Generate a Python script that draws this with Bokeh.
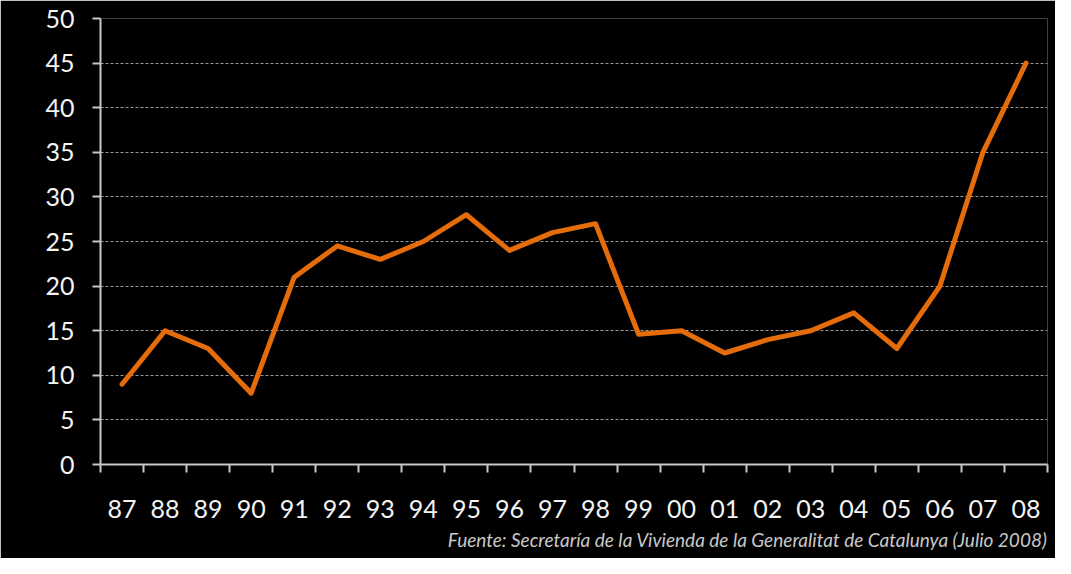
from bokeh.plotting import figure
from bokeh.models import Range1d, FixedTicker, Title
from bokeh.embed import file_html
from bokeh.resources import INLINE

years = ["87", "88", "89", "90", "91", "92", "93", "94", "95", "96", "97",
         "98", "99", "00", "01", "02", "03", "04", "05", "06", "07", "08"]
values = [9, 15, 13, 8, 21, 24.5, 23, 25, 28, 24, 26,
          27, 14.6, 15, 12.5, 14, 15, 17, 13, 20, 35, 45]
y_ticks = list(range(0, 51, 5))
source_note = "Fuente: Secretaría de la Vivienda de la Generalitat de Catalunya (Julio 2008)"

n = len(years)
xs = [i + 0.5 for i in range(n)]

p = figure(width=1055, height=558, output_backend="svg", toolbar_location=None,
           x_range=Range1d(0, n), y_range=Range1d(0, 50),
           min_border_left=100, min_border_right=8, min_border_top=18, min_border_bottom=94,
           background_fill_color="black", border_fill_color="black")
p.outline_line_color = None

p.line(xs, values, line_color="#E46C0A", line_width=5, line_join="round", line_cap="round")

FONT = "Lato"
AX = "#c8c8c8"

# x axis
xa = p.xaxis[0]
xa.ticker = FixedTicker(ticks=xs, minor_ticks=list(range(n + 1)))
xa.major_label_overrides = {x: y for x, y in zip(xs, years)}
xa.major_tick_out = 0
xa.major_tick_in = 0
xa.minor_tick_out = 8
xa.minor_tick_in = 0
xa.minor_tick_line_color = AX
xa.minor_tick_line_width = 2
xa.axis_line_color = AX
xa.axis_line_width = 2
xa.major_label_standoff = 27
xa.major_label_text_font = FONT
xa.major_label_text_font_size = "25px"
xa.major_label_text_color = "#f4f4f4"

# y axis
ya = p.yaxis[0]
ya.ticker = FixedTicker(ticks=y_ticks)
ya.major_tick_out = 8
ya.major_tick_in = 0
ya.minor_tick_line_color = None
ya.major_tick_line_color = AX
ya.major_tick_line_width = 2
ya.axis_line_color = AX
ya.axis_line_width = 2
ya.major_label_standoff = 18
ya.major_label_text_font = FONT
ya.major_label_text_font_size = "25px"
ya.major_label_text_color = "#f4f4f4"

p.xgrid.grid_line_color = None
p.ygrid.ticker = FixedTicker(ticks=y_ticks[1:])
p.ygrid.grid_line_color = "#9a9a9a"
p.ygrid.grid_line_dash = "3 2"
p.ygrid.grid_line_width = 1

p.add_layout(Title(text=source_note, align="right", text_font=FONT,
                   text_font_style="italic", text_font_size="19px",
                   text_color="#c8c8c8", standoff=10), "below")

open("out.html", "w").write(file_html(p, INLINE))
